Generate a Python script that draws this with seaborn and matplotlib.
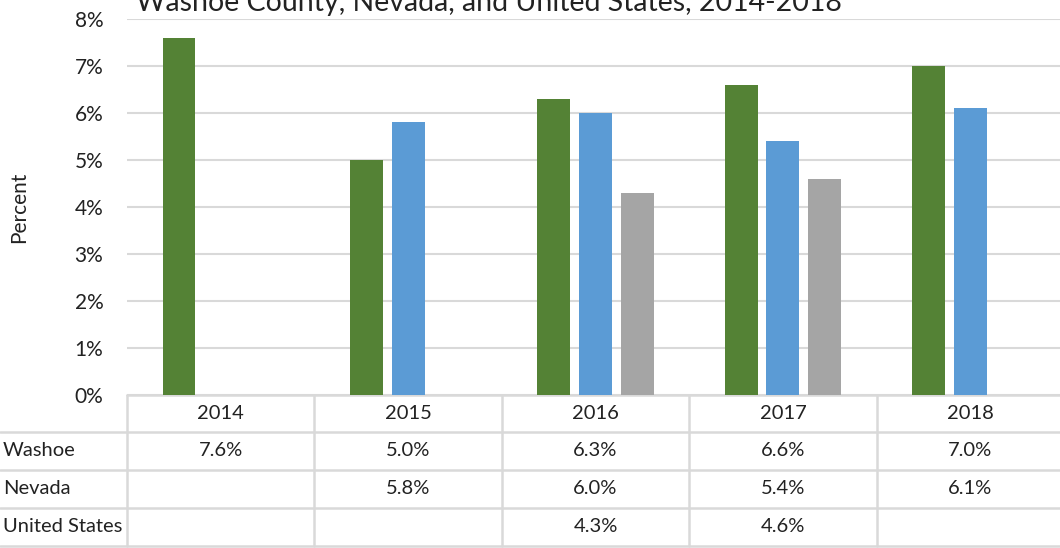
import pandas as pd
import matplotlib
matplotlib.use("Agg")
import matplotlib.pyplot as plt
import matplotlib.transforms as mtransforms
import seaborn as sns

# ─────────────────────────────────────────────
# DATA
# ─────────────────────────────────────────────
years = ["2014", "2015", "2016", "2017", "2018"]
series = ["Washoe", "Nevada", "United States"]
washoe = [7.6, 5.0, 6.3, 6.6, 7.0]
nevada = [None, 5.8, 6.0, 5.4, 6.1]
united_states = [None, None, 4.3, 4.6, None]
y_ticks = [0, 1, 2, 3, 4, 5, 6, 7, 8]
title = "Washoe County, Nevada, and United States, 2014-2018"

colors = ["#548235", "#5B9BD5", "#A5A5A5"]
grid_color = "#D9D9D9"

rows = []
for name, vals in zip(series, [washoe, nevada, united_states]):
    for yr, v in zip(years, vals):
        rows.append({"year": yr, "series": name, "value": v})
df = pd.DataFrame(rows)
df_bars = df.dropna()

# ─────────────────────────────────────────────
# FIGURE
# ─────────────────────────────────────────────
sns.set_style("white")
plt.rcParams["font.family"] = ["Lato", "DejaVu Sans"]

W, H = 1060, 548
fig = plt.figure(figsize=(W / 100, H / 100), dpi=100)
ax = fig.add_axes([127 / W, 153 / H, 937 / W, 376 / H])

sns.barplot(data=df_bars, x="year", y="value", hue="series",
            order=years, hue_order=series, palette=colors, saturation=1,
            width=0.667, gap=0.21, linewidth=0, legend=False, ax=ax)

ax.set_xlim(-0.5, len(years) - 0.5)
ax.set_ylim(0, 8)
ax.set_yticks(y_ticks)
ax.set_yticklabels([f"{t}%" for t in y_ticks], fontsize=15, color="#222222")
ax.tick_params(axis="y", length=0, pad=17)
ax.set_xticks([])
ax.set_xlabel("")
ax.set_ylabel("Percent", fontsize=15, color="#222222")
ax.yaxis.set_label_coords(-98 / 937, 0.5)
for s in ax.spines.values():
    s.set_visible(False)
ax.grid(axis="y", color=grid_color, linewidth=1.5)
ax.set_axisbelow(True)

# title (top line of the chart title, partly cut by the top edge as in the source)
fig.text(489 / W, 1 - 11 / H, title, ha="center", va="baseline",
         fontsize=20.5, color="#222222")

# ─────────────────────────────────────────────
# DATA TABLE UNDER THE AXIS
# ─────────────────────────────────────────────
ax_h = 376.0


def yax(px):
    # pixel row (from top of figure) -> axes fraction
    return -(px - 395) / ax_h


data_x = mtransforms.blended_transform_factory(ax.transData, ax.transAxes)
fig_x = mtransforms.blended_transform_factory(fig.transFigure, ax.transAxes)

line_kw = dict(color=grid_color, linewidth=1.8, clip_on=False, zorder=0)

# horizontal lines
ax.plot([-0.5, len(years) - 0.5], [yax(395), yax(395)], transform=data_x, **line_kw)
for py in [432, 470, 508, 546]:
    ax.plot([0, 1.01], [yax(py), yax(py)], transform=fig_x, **line_kw)

# vertical lines
for i in range(len(years) + 1):
    ax.plot([i - 0.5, i - 0.5], [yax(395), yax(546)], transform=data_x, **line_kw)

txt_kw = dict(fontsize=14.5, color="#222222", va="center")

# header row
for i, yr in enumerate(years):
    ax.text(i, yax(413.5), yr, transform=data_x, ha="center", **txt_kw)

# value rows
row_centers = [451, 489, 527]
for name, vals, py in zip(series, [washoe, nevada, united_states], row_centers):
    ax.text(3 / W, yax(py), name, transform=fig_x, ha="left", **txt_kw)
    for i, v in enumerate(vals):
        if v is not None:
            ax.text(i, yax(py), f"{v:.1f}%", transform=data_x, ha="center", **txt_kw)

fig.savefig("out.png", dpi=100)
